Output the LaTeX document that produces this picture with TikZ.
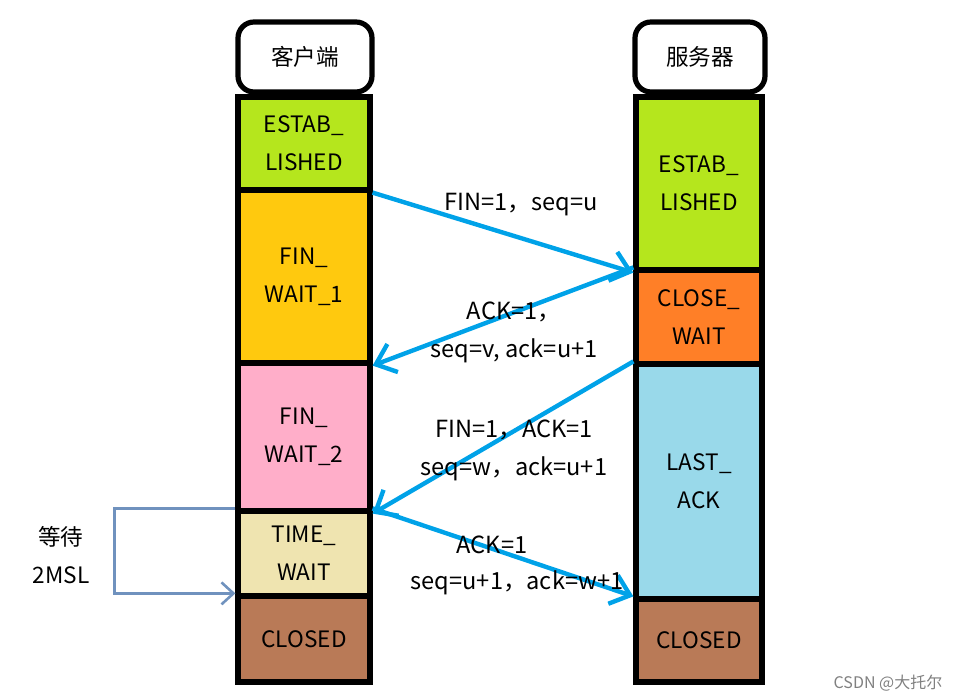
\documentclass[tikz,border=0pt]{standalone}
\usepackage{fontspec}
\setmainfont{Noto Sans CJK SC}
\usetikzlibrary{arrows.meta}
\definecolor{estab}{RGB}{181,230,29}
\definecolor{finone}{RGB}{255,201,14}
\definecolor{fintwo}{RGB}{255,174,201}
\definecolor{timew}{RGB}{239,228,176}
\definecolor{closed}{RGB}{185,122,87}
\definecolor{closew}{RGB}{255,127,39}
\definecolor{lastack}{RGB}{153,217,234}
\definecolor{msgblue}{RGB}{0,162,232}
\definecolor{waitblue}{RGB}{112,146,190}
\begin{document}
\begin{tikzpicture}[x=0.5pt,y=-0.5pt,
  every node/.style={font=\fontsize{11.3}{19}\selectfont, align=center},
  state/.style={draw, line width=2.6pt, inner sep=0pt},
  head/.style={draw, line width=2.6pt, rounded corners=8pt, fill=white, inner sep=0pt},
  msg/.style={draw=msgblue, line width=2.2pt, -{Straight Barb[length=9pt,width=15pt]}},
  label/.style={font=\fontsize{11.8}{19}\selectfont}]
  \useasboundingbox (0,0) rectangle (955,700);

  % client side
  \node[head, minimum width=67pt, minimum height=35pt] (client) at (305,57) {客户端};
  \node[state, fill=estab, minimum width=66pt, minimum height=46.5pt] (cEst) at (304,143.5) {ESTAB\_\\LISHED};
  \node[state, fill=finone, minimum width=66pt, minimum height=86.5pt] (cFw1) at (304,276.5) {FIN\_\\WAIT\_1};
  \node[state, fill=fintwo, minimum width=66pt, minimum height=74pt] (cFw2) at (304,437) {FIN\_\\WAIT\_2};
  \node[state, fill=timew, minimum width=66pt, minimum height=42.5pt] (cTw) at (304,553.5) {TIME\_\\WAIT};
  \node[state, fill=closed, minimum width=66pt, minimum height=43pt] (cCl) at (304,639) {CLOSED};

  % server side
  \node[head, minimum width=65pt, minimum height=35pt] (server) at (700,57) {服务器};
  \node[state, fill=estab, minimum width=63pt, minimum height=86.5pt] (sEst) at (699,183.5) {ESTAB\_\\LISHED};
  \node[state, fill=closew, minimum width=63pt, minimum height=47pt] (sCw) at (699,317) {CLOSE\_\\WAIT};
  \node[state, fill=lastack, minimum width=63pt, minimum height=117.5pt] (sLa) at (699,481.5) {LAST\_\\ACK};
  \node[state, fill=closed, minimum width=63pt, minimum height=41.5pt] (sCl) at (699,640.5) {CLOSED};

  % messages
  \draw[msg] (cEst.south east) -- (sEst.south west);
  \draw[msg] (sCw.north west) -- (cFw1.south east);
  \draw[msg] (sLa.north west) -- (cFw2.south east);
  \draw[msg] (cTw.north east) -- (sCl.north west);

  \node[label] (m1) at (521,205) {FIN=1，seq=u};
  \node[label] (m2) at (514,332) {ACK=1，\\seq=v, ack=u+1};
  \node[label] (m3) at (514,450) {FIN=1，ACK=1\\seq=w，ack=u+1};
  \node[label] (m4a) at (492,545) {ACK=1};
  \node[label] (m4b) at (517,583) {seq=u+1，ack=w+1};

  % 2MSL wait
  \draw[waitblue, line width=1.3pt, -{Straight Barb[length=6pt,width=11pt]}]
    (cTw.north west) -- ++(-121,0) |- (cCl.north west);
  \node (wait) at (61,555) {等待\\2MSL};

  \node[font=\fontsize{8}{10}\selectfont, text=gray] (mark) at (888,683) {CSDN @大托尔};
\end{tikzpicture}
\end{document}
